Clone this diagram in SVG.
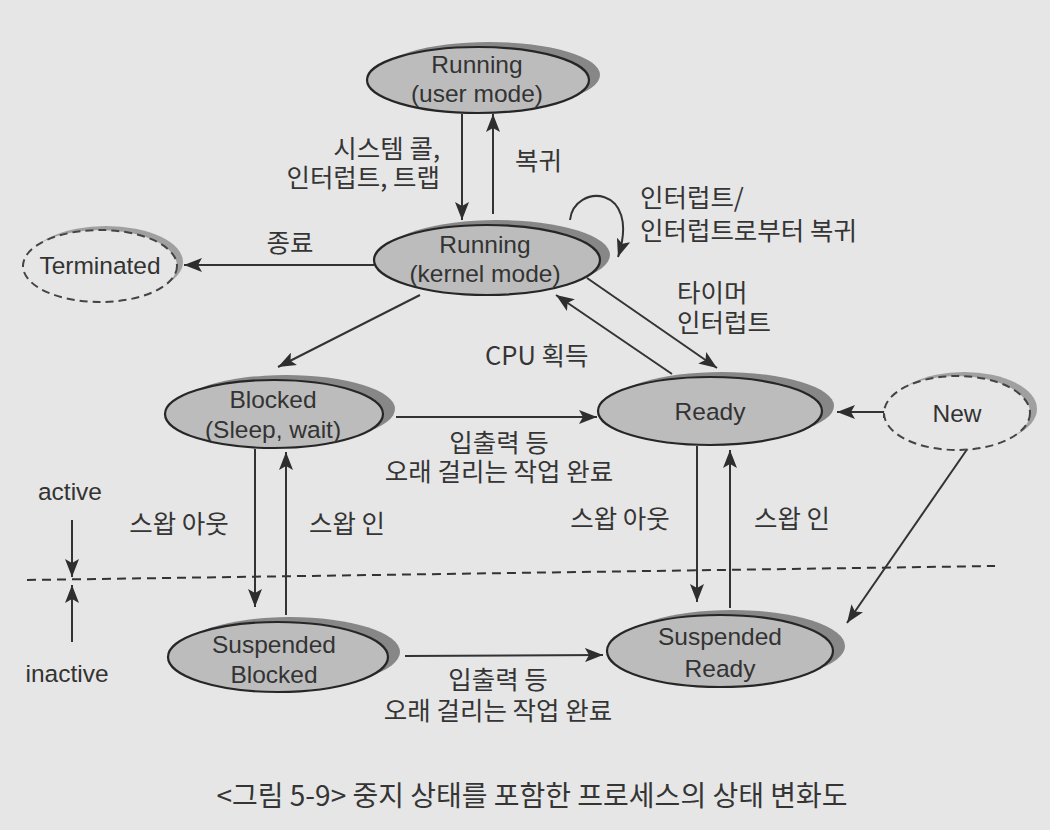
<svg xmlns="http://www.w3.org/2000/svg" width="1050" height="830" viewBox="0 0 1050 830">
<style>
  text { font-family: "Noto Sans CJK KR", "Noto Sans", sans-serif; fill: #353535; }
  .nt { font-family: "Liberation Sans", "Noto Sans CJK KR", sans-serif; font-size: 24.5px; text-anchor: middle; fill: #333; }
  .lb { font-size: 25.5px; }
  .mid { text-anchor: middle; }
  .end { text-anchor: end; }
  .node { fill: #bcbcbc; stroke: #262626; stroke-width: 2.2; }
  .shadow { fill: #878787; }
  .ghost { fill: #e6e6e6; stroke: #444; stroke-width: 2; stroke-dasharray: 8 5; }
  .gshadow { fill: #a0a0a0; }
  .edge { fill: none; stroke: #333; stroke-width: 2; marker-end: url(#arr); }
</style>
<defs>
  <marker id="arr" markerUnits="userSpaceOnUse" markerWidth="20" markerHeight="14" refX="18" refY="7" orient="auto">
    <path d="M0,0 L18,7 L0,14 L4,7 Z" fill="#2e2e2e"/>
  </marker>
</defs>
<rect width="1050" height="830" fill="#e6e6e6"/>

<g id="connectors">
  <line class="edge" x1="462" y1="114" x2="462" y2="220"/>
  <line class="edge" x1="493" y1="214" x2="493" y2="114"/>
  <path class="edge" d="M570,220 C574,183 642,184 618,257"/>
  <line class="edge" x1="374" y1="265" x2="184" y2="265"/>
  <line class="edge" x1="420" y1="295" x2="278" y2="367"/>
  <line class="edge" x1="587" y1="278" x2="717" y2="368"/>
  <line class="edge" x1="672" y1="374" x2="556" y2="295"/>
  <line class="edge" x1="396" y1="417" x2="597" y2="417"/>
  <polyline class="edge" points="884,418 884,412 837,412"/>
  <line class="edge" x1="255" y1="449" x2="255" y2="607"/>
  <line class="edge" x1="286" y1="615" x2="286" y2="452"/>
  <line class="edge" x1="697" y1="446" x2="697" y2="602"/>
  <line class="edge" x1="730" y1="608" x2="730" y2="450"/>
  <line class="edge" x1="968" y1="448" x2="847" y2="623"/>
  <line class="edge" x1="405" y1="656" x2="603" y2="655"/>
  <line class="edge" x1="72" y1="520" x2="72" y2="577"/>
  <line class="edge" x1="72" y1="642" x2="72" y2="585"/>
  <line x1="27" y1="580" x2="995" y2="566" stroke="#333" stroke-width="2" stroke-dasharray="9 6"/>
</g>

<g id="running-user">
  <ellipse class="shadow" cx="489" cy="75" rx="111" ry="33"/>
  <ellipse class="node" cx="478" cy="80" rx="111" ry="33"/>
  <text class="nt" x="477" y="73">Running</text>
  <text class="nt" x="477" y="102">(user mode)</text>
</g>

<g id="running-kernel">
  <ellipse class="shadow" cx="497" cy="255" rx="113" ry="35"/>
  <ellipse class="node" cx="487" cy="260" rx="113" ry="35"/>
  <text class="nt" x="485" y="253">Running</text>
  <text class="nt" x="485" y="282">(kernel mode)</text>
</g>

<g id="terminated">
  <ellipse class="gshadow" cx="106" cy="262" rx="77" ry="36"/>
  <ellipse class="ghost" cx="100" cy="266" rx="77" ry="36"/>
  <text class="nt" x="100" y="274">Terminated</text>
</g>

<g id="blocked">
  <ellipse class="shadow" cx="286" cy="409" rx="109" ry="34"/>
  <ellipse class="node" cx="274" cy="414" rx="109" ry="34"/>
  <text class="nt" x="273" y="408">Blocked</text>
  <text class="nt" x="273" y="438">(Sleep, wait)</text>
</g>

<g id="ready">
  <ellipse class="shadow" cx="722" cy="406" rx="112" ry="34"/>
  <ellipse class="node" cx="710" cy="411" rx="112" ry="34"/>
  <text class="nt" x="710" y="420">Ready</text>
</g>

<g id="new">
  <ellipse class="gshadow" cx="964" cy="409" rx="73" ry="37"/>
  <ellipse class="ghost" cx="957" cy="413" rx="73" ry="37"/>
  <text class="nt" x="957" y="422">New</text>
</g>

<g id="suspended-blocked">
  <ellipse class="shadow" cx="290" cy="652" rx="110" ry="35"/>
  <ellipse class="node" cx="278" cy="657" rx="110" ry="35"/>
  <text class="nt" x="274" y="653">Suspended</text>
  <text class="nt" x="274" y="683">Blocked</text>
</g>

<g id="suspended-ready">
  <ellipse class="shadow" cx="732" cy="646" rx="113" ry="36"/>
  <ellipse class="node" cx="720" cy="651" rx="113" ry="36"/>
  <text class="nt" x="720" y="645">Suspended</text>
  <text class="nt" x="720" y="677">Ready</text>
</g>

<g id="labels">
  <text class="lb end" x="440" y="158">시스템 콜,</text>
  <text class="lb end" x="440" y="187">인터럽트, 트랩</text>
  <text class="lb" x="515" y="170">복귀</text>
  <text class="lb" x="640" y="207">인터럽트/</text>
  <text class="lb" x="640" y="240">인터럽트로부터 복귀</text>
  <text class="lb mid" x="290" y="252">종료</text>
  <text class="lb" x="677" y="302">타이머</text>
  <text class="lb" x="677" y="332">인터럽트</text>
  <text class="lb" x="485" y="365">CPU 획득</text>
  <text class="lb mid" x="499" y="452">입출력 등</text>
  <text class="lb mid" x="499" y="481">오래 걸리는 작업 완료</text>
  <text class="lb mid" x="179" y="533">스왑 아웃</text>
  <text class="lb mid" x="347" y="533">스왑 인</text>
  <text class="lb mid" x="620" y="528">스왑 아웃</text>
  <text class="lb mid" x="792" y="528">스왑 인</text>
  <text class="lb mid" x="498" y="689">입출력 등</text>
  <text class="lb mid" x="498" y="720">오래 걸리는 작업 완료</text>
  <text class="nt" x="70" y="500">active</text>
  <text class="nt" x="67" y="682">inactive</text>
  <text class="mid" x="532" y="806" font-size="28">&lt;그림 5-9&gt; 중지 상태를 포함한 프로세스의 상태 변화도</text>
</g>
</svg>
